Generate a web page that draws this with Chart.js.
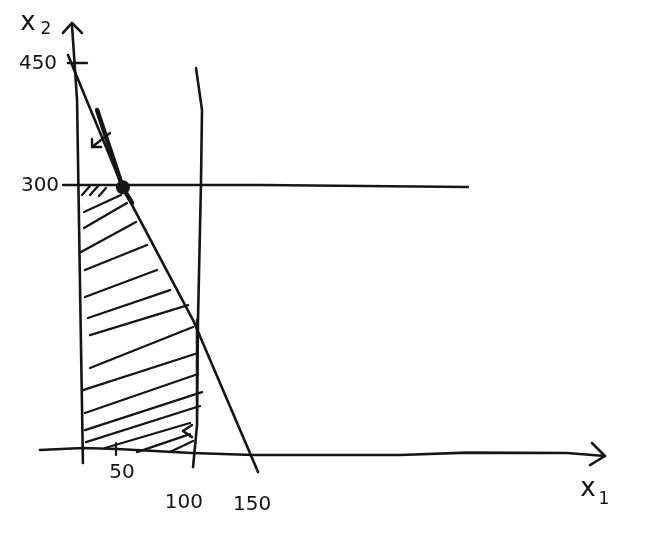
<!DOCTYPE html>
<html>
<head>
<meta charset="utf-8">
<script src="https://cdn.jsdelivr.net/npm/chart.js@4"></script>
<style>
html,body{margin:0;padding:0;background:#ffffff;}
#wrap{width:661px;height:543px;}
</style>
</head>
<body>
<div id="wrap"><canvas id="c" width="661" height="543"></canvas></div>
<script>
// ---- data (x1, x2 units) ----
const xAxisLine = [[-33.9,0],[2.5,2.3],[31.4,1.1],[94.9,-3.4],[146.6,-5.7],[271.2,-5.7],[328.0,-3.0],[412.7,-3.4],[444.9,-6.8]];
const xAxisHead = [[433.9,8.0],[444.9,-6.8],[432.2,-17.1]];
const yAxisLine = [[2.5,-14.8],[0.2,171.0],[-2.5,399.1],[-6.8,484.6]];
const yAxisHead = [[-14.4,475.5],[-6.8,486.9],[1.7,475.5]];
const tick450 = [[-10.2,441.3],[5.9,441.3]];
const tick50 = [[30.5,8.0],[30.5,-5.7]];

// constraint 3x1 + x2 = 450
const constraintA = [[-10.2,450.4],[36.4,298.8],[95.8,148.2],[150.9,-25.1]];
const constraintAbold = [[14.5,387.7],[36.4,298.8],[44.1,281.7]];
// constraint x1 = 100
const constraintB = [[98.3,435.6],[103.4,387.7],[102.5,302.2],[100.0,148.2],[99.2,28.5],[95.8,-19.4]];
// constraint x2 = 300
const constraintC = [[-14.4,302.2],[153.4,302.2],[328.8,299.9]];
// optimum vertex
const optimum = [[36.4,299.5]];
// direction arrows
const arrowA = [[25.4,361.5],[10.2,345.5]];
const arrowAHead = [[10.2,354.6],[10.2,345.5],[17.8,345.5]];
const arrowB = [[94.9,28.5],[87.3,21.7],[94.9,14.8]];

// hatching of the feasible region (start, end)
const hatch = [
  [[1.7,290.8],[8.5,301.0]],
  [[8.5,290.8],[15.3,301.0]],
  [[16.1,289.6],[22.0,298.8]],
  [[3.4,271.4],[34.7,290.8]],
  [[3.4,253.1],[39.8,281.7]],
  [[0.8,225.8],[47.5,260.0]],
  [[4.2,205.3],[56.8,233.8]],
  [[4.2,174.5],[65.3,205.3]],
  [[6.8,150.5],[76.3,182.4]],
  [[8.5,131.1],[91.5,165.3]],
  [[8.5,93.5],[95.8,140.3]],
  [[2.5,68.4],[100.0,110.6]],
  [[4.2,42.2],[100.0,86.7]],
  [[4.2,22.8],[103.4,66.1]],
  [[5.1,9.1],[101.7,50.2]],
  [[21.2,2.3],[93.2,30.8]],
  [[48.3,-2.3],[93.2,18.2]],
  [[76.3,-2.3],[95.8,10.3]]
];

// text labels
const tickTexts = ['450','300','50','100','150'];
const tickPos = [[-35.6,440.2],[-33.9,301.0],[35.6,-26.2],[88.1,-60.4],[145.8,-62.7]];
const axisNames = ['x','x'];
const axisNamePos = [[-44.1,486.5],[430.5,-44.5]];
const axisSubs = ['2','1'];
const axisSubPos = [[-28.8,478.9],[444.1,-57.0]];

// ---- build datasets ----
const INK = '#151515';
const pts = a => a.map(p => ({x:p[0], y:p[1]}));
function lineDs(a, w) {
  return {data: pts(a), showLine: true, borderColor: INK, borderWidth: w,
          pointRadius: 0, fill: false, tension: 0, borderCapStyle: 'round',
          borderJoinStyle: 'round', clip: false};
}
const datasets = [
  lineDs(xAxisLine, 2.6), lineDs(xAxisHead, 2.6),
  lineDs(yAxisLine, 2.6), lineDs(yAxisHead, 2.6),
  lineDs(tick450, 2.4), lineDs(tick50, 2.2),
  lineDs(constraintA, 2.6), lineDs(constraintAbold, 4.5),
  lineDs(constraintB, 2.6), lineDs(constraintC, 2.4),
  lineDs(arrowA, 2.4), lineDs(arrowAHead, 2.4), lineDs(arrowB, 2.6)
];
hatch.forEach(s => datasets.push(lineDs(s, 2.3)));
datasets.push({data: pts(optimum), showLine: false, pointRadius: 7,
  pointBackgroundColor: INK, pointBorderColor: INK, pointBorderWidth: 0, clip: false});

const textPlugin = {
  id: 'sketchText',
  afterDatasetsDraw(chart) {
    const ctx = chart.ctx, sx = chart.scales.x, sy = chart.scales.y;
    ctx.save();
    ctx.fillStyle = INK;
    ctx.textAlign = 'center';
    ctx.textBaseline = 'middle';
    ctx.font = '20px "DejaVu Sans"';
    tickTexts.forEach((t,i) => ctx.fillText(t, sx.getPixelForValue(tickPos[i][0]), sy.getPixelForValue(tickPos[i][1])));
    ctx.font = '26px "DejaVu Sans"';
    axisNames.forEach((t,i) => ctx.fillText(t, sx.getPixelForValue(axisNamePos[i][0]), sy.getPixelForValue(axisNamePos[i][1])));
    ctx.font = '17px "DejaVu Sans"';
    axisSubs.forEach((t,i) => ctx.fillText(t, sx.getPixelForValue(axisSubPos[i][0]), sy.getPixelForValue(axisSubPos[i][1])));
    ctx.restore();
  }
};

new Chart(document.getElementById('c'), {
  type: 'scatter',
  data: {datasets},
  options: {
    responsive: false,
    animation: false,
    events: [],
    layout: {padding: 0, autoPadding: false},
    plugins: {legend: {display: false}, tooltip: {enabled: false}},
    scales: {
      x: {type: 'linear', min: -67.8, max: 492.4, display: false},
      y: {type: 'linear', min: -106.0, max: 513.1, display: false}
    }
  },
  plugins: [textPlugin]
});
</script>
</body>
</html>
